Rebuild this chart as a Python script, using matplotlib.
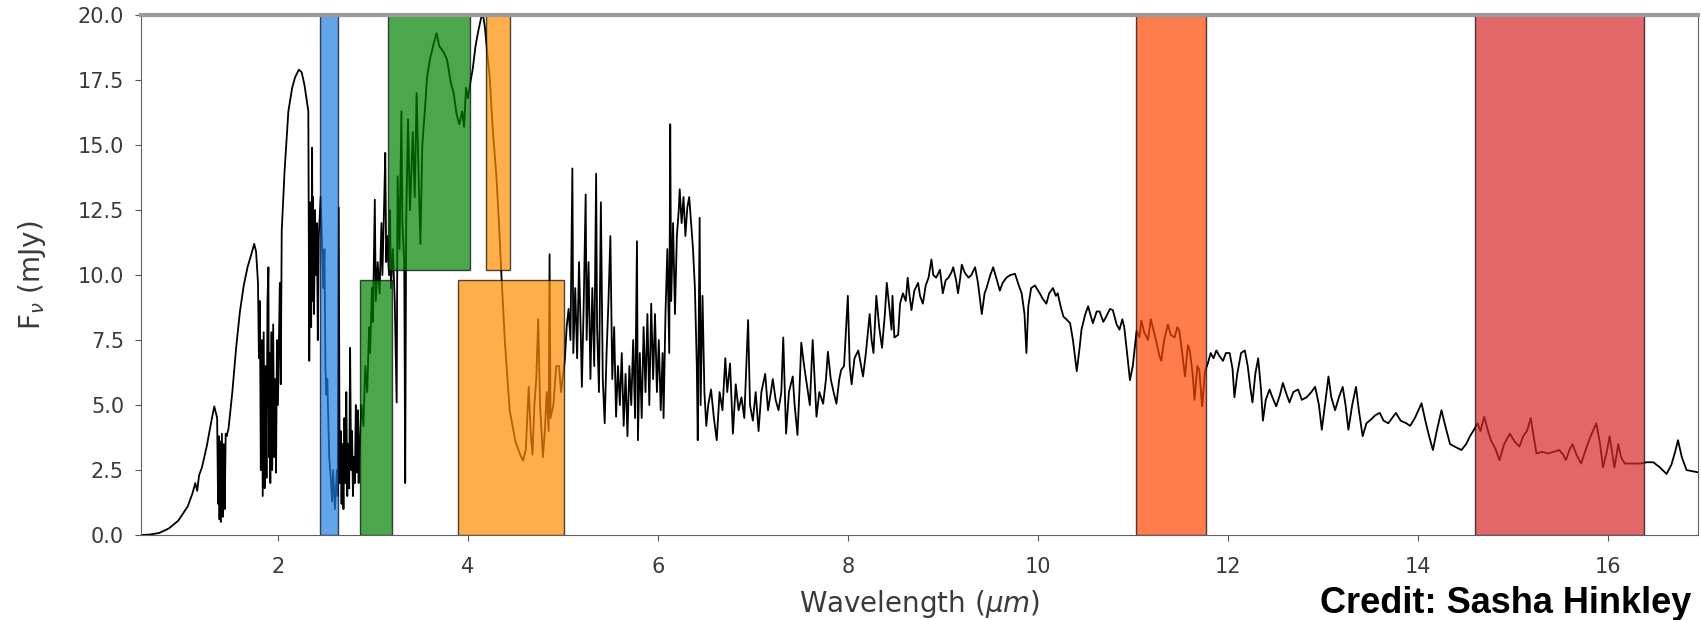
import numpy as np
import matplotlib
matplotlib.use("Agg")
import matplotlib.pyplot as plt

# spectrum, (wavelength um, flux mJy), in pieces
seg_y_band = [(0.55, 0.0), (0.65, 0.02), (0.75, 0.08), (0.85, 0.25), (0.95, 0.55), (1.05, 1.1),
              (1.10, 1.6), (1.13, 2.0), (1.15, 1.7), (1.17, 2.3), (1.20, 2.6), (1.25, 3.4),
              (1.30, 4.4), (1.33, 4.95), (1.36, 4.5), (1.37, 1.2), (1.38, 3.8), (1.385, 0.6),
              (1.39, 3.6), (1.40, 0.5), (1.41, 3.9), (1.42, 0.7), (1.43, 3.5), (1.44, 1.0),
              (1.45, 3.9), (1.46, 3.8), (1.48, 4.1), (1.52, 5.5), (1.56, 7.2), (1.60, 8.6),
              (1.64, 9.6), (1.68, 10.3), (1.72, 10.8), (1.75, 11.2), (1.77, 10.9), (1.79, 9.7)]
seg_h_band = [(1.80, 6.8), (1.81, 9.0), (1.82, 2.5), (1.83, 7.5), (1.84, 1.5), (1.85, 7.8),
              (1.86, 1.8), (1.87, 6.5), (1.88, 2.2), (1.89, 9.0), (1.90, 10.3), (1.905, 3.0),
              (1.91, 7.0), (1.92, 2.0), (1.93, 7.8), (1.94, 2.5), (1.95, 8.1), (1.96, 3.0),
              (1.97, 6.0), (1.98, 2.4), (1.99, 7.5), (2.00, 5.0), (2.02, 9.7), (2.03, 5.8),
              (2.04, 11.7), (2.07, 14.0), (2.11, 16.3), (2.15, 17.2), (2.18, 17.6), (2.22, 17.9),
              (2.25, 17.8), (2.28, 17.3), (2.30, 16.8), (2.32, 16.3)]
seg_k_band = [(2.33, 6.7), (2.34, 12.8), (2.35, 8.0), (2.36, 14.9), (2.365, 9.0), (2.37, 13.0),
              (2.38, 8.5), (2.39, 12.5), (2.40, 10.0), (2.41, 12.0), (2.42, 7.5), (2.43, 11.5),
              (2.45, 13.0), (2.47, 10.5), (2.48, 9.5), (2.49, 11.0), (2.50, 6.5), (2.51, 5.4),
              (2.52, 6.0), (2.54, 3.0), (2.56, 2.0), (2.57, 1.3), (2.58, 2.5), (2.60, 1.0),
              (2.62, 2.5), (2.63, 1.5), (2.64, 12.6), (2.65, 2.0), (2.66, 4.0), (2.67, 1.2),
              (2.68, 3.5), (2.69, 1.0), (2.70, 4.5), (2.71, 2.0), (2.72, 5.5), (2.73, 1.5),
              (2.74, 3.5), (2.75, 1.8), (2.76, 7.2), (2.77, 2.5), (2.78, 4.0), (2.79, 1.5),
              (2.80, 3.0), (2.81, 2.0), (2.82, 5.0), (2.83, 2.4), (2.84, 4.8), (2.85, 2.0),
              (2.86, 3.5)]
seg_l_band = [(2.88, 5.0), (2.90, 4.2), (2.92, 6.5), (2.94, 5.5), (2.96, 8.0), (2.97, 7.0),
              (2.99, 9.5), (3.00, 8.2), (3.01, 10.5), (3.02, 12.9), (3.03, 9.0), (3.05, 10.5),
              (3.07, 9.3), (3.09, 12.0), (3.10, 10.0), (3.12, 13.0), (3.13, 14.7), (3.14, 10.5),
              (3.15, 11.5), (3.17, 10.0), (3.18, 12.5), (3.19, 9.5), (3.21, 11.0), (3.23, 9.0),
              (3.25, 5.1), (3.26, 13.8), (3.28, 11.0), (3.30, 16.3), (3.31, 12.0), (3.33, 10.5),
              (3.34, 2.0), (3.35, 12.0), (3.37, 16.0), (3.39, 12.5), (3.42, 15.5), (3.44, 13.0),
              (3.46, 17.0), (3.48, 14.0), (3.50, 11.2), (3.52, 15.0), (3.55, 16.5), (3.57, 17.6),
              (3.60, 18.3), (3.64, 18.9), (3.67, 19.3), (3.70, 18.8), (3.74, 18.6), (3.78, 18.3),
              (3.82, 17.4), (3.85, 17.0), (3.88, 16.2), (3.91, 15.8), (3.94, 16.3), (3.96, 15.7),
              (3.98, 17.2), (4.00, 16.8), (4.03, 17.5), (4.05, 17.9), (4.08, 18.8), (4.11, 19.4),
              (4.14, 19.9), (4.16, 20.0), (4.18, 19.5)]
seg_m_band = [(4.21, 18.3), (4.23, 17.6), (4.26, 15.7), (4.30, 13.8), (4.33, 11.8), (4.35, 10.2),
              (4.39, 7.4), (4.44, 4.8), (4.50, 3.6), (4.55, 3.1), (4.58, 2.86), (4.61, 3.3),
              (4.64, 5.7), (4.66, 4.0), (4.68, 3.1), (4.70, 5.0), (4.72, 6.0), (4.74, 8.3),
              (4.76, 5.0), (4.79, 3.0), (4.81, 4.0), (4.83, 5.5), (4.85, 4.0), (4.86, 10.8),
              (4.87, 4.5), (4.90, 5.0), (4.93, 6.5), (4.96, 6.5), (4.98, 5.5), (5.00, 6.1)]
seg_water = [(5.02, 6.7), (5.04, 8.0), (5.06, 8.7), (5.08, 7.5), (5.10, 14.1), (5.11, 7.0),
             (5.13, 9.5), (5.15, 6.8), (5.17, 10.5), (5.19, 7.5), (5.20, 5.7), (5.22, 9.0),
             (5.24, 13.1), (5.25, 7.5), (5.27, 10.5), (5.29, 6.0), (5.31, 9.5), (5.33, 6.5),
             (5.35, 13.9), (5.36, 8.0), (5.38, 5.5), (5.40, 12.8), (5.42, 6.0), (5.44, 4.3),
             (5.46, 7.0), (5.48, 9.0), (5.50, 11.5), (5.52, 6.0), (5.54, 8.0), (5.56, 4.55),
             (5.58, 6.5), (5.60, 5.0), (5.62, 7.0), (5.64, 4.2), (5.66, 6.2), (5.68, 3.8),
             (5.70, 6.5), (5.72, 5.0), (5.74, 7.5), (5.76, 4.5), (5.78, 11.3), (5.79, 3.65),
             (5.81, 7.0), (5.83, 4.5), (5.85, 8.0), (5.87, 5.5), (5.89, 8.5), (5.91, 5.0),
             (5.93, 8.9), (5.95, 6.0), (5.97, 8.5), (5.99, 5.5), (6.01, 7.5), (6.03, 4.8),
             (6.05, 7.0), (6.06, 4.5), (6.08, 8.5), (6.10, 11.0), (6.12, 7.0), (6.13, 15.8),
             (6.14, 9.0), (6.16, 12.0), (6.18, 8.5), (6.20, 11.5), (6.22, 12.5), (6.23, 13.3),
             (6.25, 12.0), (6.27, 13.0), (6.29, 11.5), (6.31, 12.6), (6.33, 13.0), (6.35, 12.0),
             (6.37, 11.0), (6.39, 9.5), (6.41, 6.5), (6.42, 3.65), (6.44, 12.2), (6.45, 5.0),
             (6.47, 9.2), (6.49, 5.5), (6.51, 4.2)]
seg_methane = [(6.53, 5.0), (6.56, 5.6), (6.59, 4.5), (6.62, 3.65), (6.65, 5.5), (6.68, 4.8),
               (6.71, 6.8), (6.73, 5.5), (6.76, 6.6), (6.79, 3.9), (6.82, 5.8), (6.85, 4.8),
               (6.88, 5.3), (6.91, 4.5), (6.95, 8.27), (6.97, 5.0), (7.00, 4.4), (7.03, 5.5),
               (7.06, 4.0), (7.09, 5.5), (7.13, 6.2), (7.16, 4.8), (7.19, 5.5), (7.21, 6.0),
               (7.24, 5.2), (7.27, 4.8), (7.30, 5.5), (7.32, 7.6), (7.35, 3.9), (7.38, 5.5),
               (7.42, 6.1), (7.44, 5.0), (7.47, 3.85), (7.49, 5.5), (7.51, 7.4), (7.54, 6.5),
               (7.56, 6.0), (7.60, 5.0), (7.63, 7.5), (7.67, 4.55), (7.70, 5.5), (7.74, 5.05),
               (7.77, 6.0), (7.79, 7.05), (7.82, 6.0), (7.85, 5.5), (7.88, 5.05), (7.91, 6.0),
               (7.93, 6.35), (7.96, 6.5), (8.00, 9.2), (8.02, 6.5), (8.04, 5.8), (8.07, 6.8),
               (8.11, 7.1), (8.14, 6.5), (8.16, 6.1), (8.19, 7.0), (8.23, 8.5), (8.25, 7.5),
               (8.27, 7.0), (8.30, 9.2), (8.33, 8.0), (8.36, 7.2), (8.39, 8.5), (8.41, 9.7),
               (8.44, 8.65), (8.46, 7.9), (8.47, 9.2), (8.49, 7.6), (8.53, 7.7), (8.55, 8.9)]
seg_n_band = [(8.58, 9.3), (8.61, 9.0), (8.63, 9.9), (8.65, 9.2), (8.67, 8.65), (8.70, 9.4),
              (8.74, 9.7), (8.76, 9.2), (8.79, 8.9), (8.82, 9.6), (8.85, 9.9), (8.88, 10.6),
              (8.90, 10.0), (8.93, 9.9), (8.97, 10.2), (9.00, 9.3), (9.03, 9.8), (9.06, 9.9),
              (9.09, 10.1), (9.11, 10.3), (9.14, 9.8), (9.16, 9.3), (9.18, 9.8), (9.20, 10.4),
              (9.23, 10.1), (9.27, 9.9), (9.30, 10.0), (9.34, 10.3), (9.37, 9.7), (9.41, 8.5),
              (9.44, 9.3), (9.46, 9.5), (9.50, 10.0), (9.53, 10.3), (9.57, 9.8), (9.60, 9.4),
              (9.63, 9.7), (9.67, 9.9), (9.71, 10.0), (9.76, 10.05), (9.80, 9.6), (9.83, 9.3),
              (9.86, 8.5), (9.88, 7.0), (9.90, 8.8), (9.93, 9.5), (9.97, 9.6), (10.02, 9.3),
              (10.05, 9.1), (10.09, 8.9), (10.12, 9.3), (10.16, 9.5), (10.19, 9.2), (10.21, 9.3),
              (10.24, 8.8), (10.27, 8.4), (10.30, 8.3), (10.34, 8.15), (10.37, 7.5), (10.41, 6.3),
              (10.44, 7.2), (10.46, 7.9), (10.50, 8.5), (10.53, 8.8), (10.56, 8.4), (10.58, 8.15),
              (10.62, 8.6), (10.65, 8.6), (10.69, 8.2), (10.72, 8.4), (10.76, 8.7), (10.79, 8.65),
              (10.83, 8.1), (10.86, 7.9), (10.89, 8.3), (10.91, 8.0), (10.94, 7.0), (10.97, 5.96),
              (11.00, 6.5)]
seg_mir = [(11.04, 7.85), (11.07, 7.6), (11.09, 8.25), (11.12, 7.8), (11.16, 7.5), (11.19, 8.3),
           (11.21, 8.0), (11.25, 7.4), (11.28, 6.9), (11.30, 6.7), (11.33, 7.5), (11.37, 8.1),
           (11.40, 7.7), (11.44, 7.6), (11.47, 8.0), (11.49, 7.85), (11.52, 7.0), (11.55, 6.1),
           (11.58, 7.3), (11.60, 7.1), (11.63, 6.2), (11.65, 5.2), (11.68, 6.5), (11.70, 6.35),
           (11.73, 4.95), (11.76, 6.3), (11.79, 6.6), (11.82, 7.0), (11.85, 6.8), (11.88, 7.1),
           (11.91, 6.9), (11.95, 6.7), (11.98, 7.0), (12.02, 7.0), (12.05, 6.4), (12.07, 5.3),
           (12.10, 6.2), (12.14, 7.0), (12.18, 7.1), (12.21, 6.5), (12.24, 5.6), (12.26, 5.1),
           (12.29, 6.2), (12.32, 6.8), (12.35, 5.6), (12.37, 4.4), (12.40, 5.2), (12.44, 5.6),
           (12.47, 5.3), (12.51, 4.95), (12.55, 5.4), (12.58, 5.85), (12.62, 5.4), (12.65, 5.1),
           (12.69, 5.5), (12.74, 5.6), (12.78, 5.2), (12.83, 5.3), (12.88, 5.5), (12.92, 5.7),
           (12.96, 5.0), (12.99, 4.05), (13.03, 5.2), (13.06, 6.1), (13.09, 5.3), (13.13, 4.8),
           (13.17, 5.3), (13.21, 5.7), (13.24, 5.0), (13.27, 4.05), (13.31, 5.0), (13.35, 5.7),
           (13.38, 4.8), (13.42, 3.8), (13.46, 4.3), (13.51, 4.45), (13.55, 4.6), (13.60, 4.7),
           (13.64, 4.4), (13.69, 4.3), (13.73, 4.5), (13.77, 4.7), (13.82, 4.4), (13.88, 4.3)]
seg_mir_long = [(13.92, 4.2), (13.97, 4.5), (14.04, 5.07), (14.08, 4.4), (14.12, 3.8), (14.16, 3.27),
                (14.20, 4.0), (14.25, 4.8), (14.29, 4.2), (14.34, 3.5), (14.39, 3.4), (14.46, 3.27),
                (14.51, 3.5), (14.55, 3.8), (14.60, 4.1), (14.63, 4.3), (14.66, 4.0), (14.70, 4.55),
                (14.74, 4.0), (14.77, 3.65), (14.82, 3.3), (14.86, 2.88), (14.91, 3.5), (14.97, 3.9),
                (15.02, 3.6), (15.07, 3.4), (15.11, 3.8), (15.15, 4.0), (15.19, 4.5), (15.22, 3.8),
                (15.25, 3.14), (15.31, 3.2), (15.37, 3.14), (15.43, 3.2), (15.49, 3.27), (15.53, 3.1),
                (15.56, 2.88), (15.60, 3.3), (15.63, 3.5), (15.67, 3.1), (15.72, 2.75), (15.77, 3.3),
                (15.82, 3.8), (15.88, 4.3), (15.92, 3.5), (15.95, 2.6), (15.99, 3.2), (16.02, 3.8),
                (16.05, 3.1), (16.07, 2.6), (16.09, 3.0), (16.11, 3.5), (16.14, 3.0), (16.18, 2.75),
                (16.26, 2.75), (16.34, 2.75), (16.41, 2.8), (16.48, 2.8), (16.55, 2.6), (16.62, 2.35),
                (16.67, 2.7), (16.71, 3.2), (16.74, 3.65), (16.78, 3.0), (16.83, 2.5), (16.90, 2.45),
                (16.97, 2.4)]

# filter bands drawn over the spectrum
band_lo = [2.44, 2.86, 3.16, 4.19, 3.90, 11.03, 14.60]
band_hi = [2.63, 3.20, 4.02, 4.44, 5.01, 11.77, 16.38]
band_bottom = [0.0, 0.0, 10.2, 10.2, 0.0, 0.0, 0.0]
band_top = [20.0, 9.8, 20.0, 20.0, 9.8, 20.0, 20.0]
band_colors = ['#1f7fe0', 'green', 'green', 'darkorange', 'darkorange', 'orangered', 'tab:red']

xticks = [2, 4, 6, 8, 10, 12, 14, 16]
yticks = [0.0, 2.5, 5.0, 7.5, 10.0, 12.5, 15.0, 17.5, 20.0]

spec = np.array(seg_y_band + seg_h_band + seg_k_band + seg_l_band + seg_m_band
                + seg_water + seg_methane + seg_n_band + seg_mir + seg_mir_long)
wl, flux = spec[:, 0], spec[:, 1]

fig = plt.figure(figsize=(17.01, 6.2), dpi=100)
ax = fig.add_axes([0.0827, 0.137, 0.9155, 0.8387])

ax.plot(wl, flux, color='k', lw=1.3, zorder=1)

lo = np.array(band_lo)
hi = np.array(band_hi)
bot = np.array(band_bottom)
top = np.array(band_top)
ax.bar(lo, top - bot, width=hi - lo, bottom=bot, align='edge', color=band_colors,
       alpha=0.7, edgecolor='k', linewidth=1.0, zorder=2)

ax.set_xlim(0.555, 16.95)
ax.set_ylim(0, 20)
ax.set_xticks(xticks)
ax.set_yticks(yticks)
ax.set_yticklabels(['%.1f' % v for v in yticks])

txt = '#3a3a3a'
ax.tick_params(labelsize=15, colors='#555555', labelcolor=txt, length=4)
ax.tick_params(axis='x', pad=12)
ax.tick_params(axis='y', pad=8)
for s in ax.spines.values():
    s.set_color('#606060')
ax.spines['top'].set_color('#9a9a9a')
ax.spines['top'].set_linewidth(3)

ax.set_xlabel(r'Wavelength ($\mu m$)', fontsize=20, color=txt, labelpad=8)
ax.set_ylabel(r'F$_\nu$ (mJy)', fontsize=20, color=txt, labelpad=21)

# credit sits in the bottom right corner, below the axis
fig.text(0.776, 0.012, 'Credit: Sasha Hinkley', fontsize=26, fontweight='bold',
         family='Liberation Sans', color='k', va='baseline', ha='left')

fig.savefig('out.png', dpi=100)
